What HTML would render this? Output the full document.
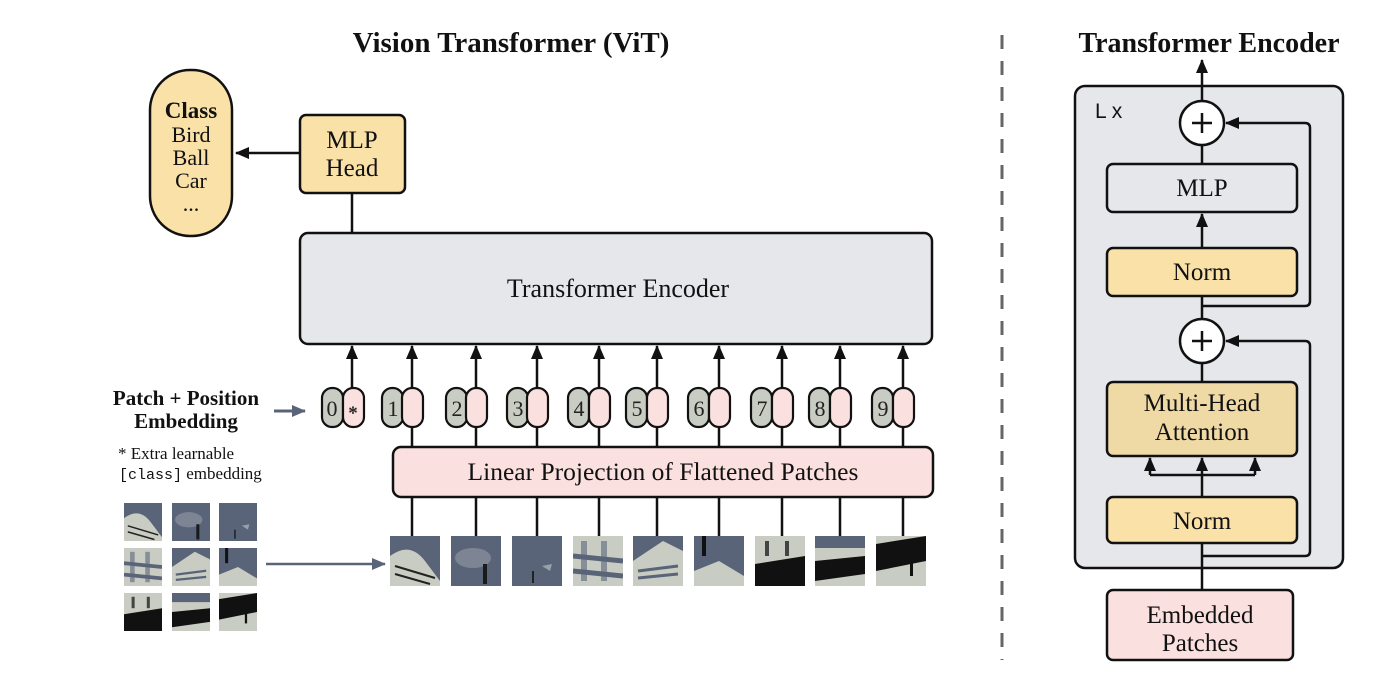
<!DOCTYPE html>
<html><head><meta charset="utf-8"><style>
html,body{margin:0;padding:0;background:#fff;}
svg{display:block;font-family:"Liberation Serif",serif;}
</style></head><body>
<svg width="1400" height="690" viewBox="0 0 1400 690" xmlns="http://www.w3.org/2000/svg">
<defs>
<marker id="ahg" markerWidth="14" markerHeight="12" refX="13" refY="6" orient="auto" markerUnits="userSpaceOnUse" viewBox="0 0 14 12">
<path d="M0,0 L14,6 L0,12 z" fill="#5a6478"/></marker>
<marker id="ahb" markerWidth="14" markerHeight="12" refX="13" refY="6" orient="auto" markerUnits="userSpaceOnUse" viewBox="0 0 14 12">
<path d="M0,0 L14,6 L0,12 z" fill="#111"/></marker>
<symbol id="p1" viewBox="0 0 50 50"><rect width="50" height="50" fill="#5a6479"/><path d="M0,20 Q20,5 35,25 L50,45 L50,50 L0,50z" fill="#c9ccc2"/><path d="M5,30 L45,42 M5,38 L40,48" stroke="#222" stroke-width="2"/></symbol>
<symbol id="p2" viewBox="0 0 50 50"><rect width="50" height="50" fill="#5a6479"/><ellipse cx="22" cy="22" rx="18" ry="10" fill="#7d8595"/><rect x="32" y="28" width="4" height="20" fill="#1a1a1a"/></symbol>
<symbol id="p3" viewBox="0 0 50 50"><rect width="50" height="50" fill="#5a6479"/><path d="M30,30 L40,28 L38,35z" fill="#9aa0aa"/><rect x="20" y="35" width="2" height="12" fill="#222"/></symbol>
<symbol id="p4" viewBox="0 0 50 50"><rect width="50" height="50" fill="#c9ccc2"/><path d="M0,20 L50,25 M0,35 L50,40" stroke="#5a6479" stroke-width="5"/><rect x="8" y="5" width="6" height="40" fill="#5a6479" opacity=".6"/><rect x="28" y="5" width="6" height="40" fill="#5a6479" opacity=".6"/></symbol>
<symbol id="p5" viewBox="0 0 50 50"><rect width="50" height="50" fill="#5a6479"/><path d="M0,25 L30,5 L50,15 L50,50 L0,50z" fill="#c9ccc2"/><path d="M5,35 L45,30 M5,42 L45,38" stroke="#5a6479" stroke-width="3"/></symbol>
<symbol id="p6" viewBox="0 0 50 50"><rect width="50" height="50" fill="#5a6479"/><path d="M0,35 L25,25 L50,40 L50,50 L0,50z" fill="#c9ccc2"/><rect x="8" y="0" width="4" height="20" fill="#111"/></symbol>
<symbol id="p7" viewBox="0 0 50 50"><rect width="50" height="50" fill="#c9ccc2"/><path d="M0,28 L50,20 L50,50 L0,50z" fill="#111"/><rect x="10" y="5" width="4" height="15" fill="#444"/><rect x="30" y="5" width="4" height="15" fill="#444"/></symbol>
<symbol id="p8" viewBox="0 0 50 50"><rect width="50" height="50" fill="#c9ccc2"/><rect y="0" width="50" height="12" fill="#5a6479"/><path d="M0,25 L50,20 L50,38 L0,45z" fill="#111"/></symbol>
<symbol id="p9" viewBox="0 0 50 50"><rect width="50" height="50" fill="#c9ccc2"/><path d="M0,8 L50,0 L50,25 L0,35z" fill="#111"/><rect x="34" y="25" width="3" height="15" fill="#111"/></symbol>
</defs>

<text x="511" y="52" font-size="29" font-weight="bold" text-anchor="middle" fill="#111">Vision Transformer (ViT)</text>
<text x="1209" y="52" font-size="28" font-weight="bold" text-anchor="middle" fill="#111">Transformer Encoder</text>

<rect x="150" y="70" width="82" height="166" rx="40" fill="#f9e1a8" stroke="#111" stroke-width="2.5"/>
<text x="191" y="118" font-size="23" font-weight="bold" text-anchor="middle" fill="#111">Class</text>
<g font-size="22" text-anchor="middle" fill="#111">
<text x="191" y="142">Bird</text><text x="191" y="165">Ball</text><text x="191" y="188">Car</text><text x="191" y="211">...</text></g>

<rect x="300" y="115" width="105" height="78" rx="6" fill="#f9e1a8" stroke="#111" stroke-width="2.5"/>
<text x="352" y="148" font-size="25" text-anchor="middle" fill="#111">MLP</text>
<text x="352" y="176" font-size="25" text-anchor="middle" fill="#111">Head</text>
<line x1="300" y1="153" x2="236" y2="153" stroke="#111" stroke-width="2.5" marker-end="url(#ahb)"/>
<line x1="352" y1="193" x2="352" y2="233" stroke="#111" stroke-width="2.5"/>

<rect x="300" y="233" width="632" height="111" rx="8" fill="#e6e7ea" stroke="#111" stroke-width="2.5"/>
<text x="618" y="297" font-size="26" text-anchor="middle" fill="#111">Transformer Encoder</text>

<g stroke="#111" stroke-width="2.5">
<line x1="352" y1="388" x2="352" y2="346" marker-end="url(#ahb)"/>
<line x1="412" y1="388" x2="412" y2="346" marker-end="url(#ahb)"/>
<line x1="476" y1="388" x2="476" y2="346" marker-end="url(#ahb)"/>
<line x1="537" y1="388" x2="537" y2="346" marker-end="url(#ahb)"/>
<line x1="599" y1="388" x2="599" y2="346" marker-end="url(#ahb)"/>
<line x1="657" y1="388" x2="657" y2="346" marker-end="url(#ahb)"/>
<line x1="719" y1="388" x2="719" y2="346" marker-end="url(#ahb)"/>
<line x1="782" y1="388" x2="782" y2="346" marker-end="url(#ahb)"/>
<line x1="840" y1="388" x2="840" y2="346" marker-end="url(#ahb)"/>
<line x1="903" y1="388" x2="903" y2="346" marker-end="url(#ahb)"/>
</g>
<g stroke="#111" stroke-width="2.2">
<rect x="322" y="388" width="21" height="39" rx="10" fill="#c9ccc2"/><rect x="343" y="388" width="21" height="39" rx="10" fill="#fbe0e0"/>
<rect x="382" y="388" width="21" height="39" rx="10" fill="#c9ccc2"/><rect x="402" y="388" width="21" height="39" rx="10" fill="#fbe0e0"/>
<rect x="446" y="388" width="21" height="39" rx="10" fill="#c9ccc2"/><rect x="466" y="388" width="21" height="39" rx="10" fill="#fbe0e0"/>
<rect x="507" y="388" width="21" height="39" rx="10" fill="#c9ccc2"/><rect x="527" y="388" width="21" height="39" rx="10" fill="#fbe0e0"/>
<rect x="568" y="388" width="21" height="39" rx="10" fill="#c9ccc2"/><rect x="589" y="388" width="21" height="39" rx="10" fill="#fbe0e0"/>
<rect x="626" y="388" width="21" height="39" rx="10" fill="#c9ccc2"/><rect x="647" y="388" width="21" height="39" rx="10" fill="#fbe0e0"/>
<rect x="688" y="388" width="21" height="39" rx="10" fill="#c9ccc2"/><rect x="709" y="388" width="21" height="39" rx="10" fill="#fbe0e0"/>
<rect x="751" y="388" width="21" height="39" rx="10" fill="#c9ccc2"/><rect x="772" y="388" width="21" height="39" rx="10" fill="#fbe0e0"/>
<rect x="809" y="388" width="21" height="39" rx="10" fill="#c9ccc2"/><rect x="830" y="388" width="21" height="39" rx="10" fill="#fbe0e0"/>
<rect x="872" y="388" width="21" height="39" rx="10" fill="#c9ccc2"/><rect x="893" y="388" width="21" height="39" rx="10" fill="#fbe0e0"/>
</g>
<g font-size="22" text-anchor="middle" fill="#222">
<text x="332" y="416">0</text><text x="353" y="419" font-size="19" font-weight="bold">*</text>
<text x="393" y="416">1</text><text x="457" y="416">2</text><text x="518" y="416">3</text><text x="579" y="416">4</text>
<text x="637" y="416">5</text><text x="699" y="416">6</text><text x="762" y="416">7</text><text x="820" y="416">8</text><text x="883" y="416">9</text>
</g>

<g stroke="#111" stroke-width="2.5">
<line x1="412" y1="427" x2="412" y2="536"/><line x1="476" y1="427" x2="476" y2="536"/><line x1="537" y1="427" x2="537" y2="536"/>
<line x1="599" y1="427" x2="599" y2="536"/><line x1="657" y1="427" x2="657" y2="536"/><line x1="719" y1="427" x2="719" y2="536"/>
<line x1="782" y1="427" x2="782" y2="536"/><line x1="840" y1="427" x2="840" y2="536"/><line x1="903" y1="427" x2="903" y2="536"/>
</g>
<rect x="393" y="447" width="540" height="50" rx="8" fill="#fbe0e0" stroke="#111" stroke-width="2.5"/>
<text x="663" y="480" font-size="25.5" text-anchor="middle" fill="#111">Linear Projection of Flattened Patches</text>

<use href="#p1" x="390" y="536" width="50" height="50"/>
<use href="#p2" x="451" y="536" width="50" height="50"/>
<use href="#p3" x="512" y="536" width="50" height="50"/>
<use href="#p4" x="573" y="536" width="50" height="50"/>
<use href="#p5" x="633" y="536" width="50" height="50"/>
<use href="#p6" x="694" y="536" width="50" height="50"/>
<use href="#p7" x="755" y="536" width="50" height="50"/>
<use href="#p8" x="815" y="536" width="50" height="50"/>
<use href="#p9" x="876" y="536" width="50" height="50"/>

<use href="#p1" x="124" y="503" width="38" height="38"/><use href="#p2" x="172" y="503" width="38" height="38"/><use href="#p3" x="219" y="503" width="38" height="38"/>
<use href="#p4" x="124" y="548" width="38" height="38"/><use href="#p5" x="172" y="548" width="38" height="38"/><use href="#p6" x="219" y="548" width="38" height="38"/>
<use href="#p7" x="124" y="593" width="38" height="38"/><use href="#p8" x="172" y="593" width="38" height="38"/><use href="#p9" x="219" y="593" width="38" height="38"/>
<line x1="266" y1="564" x2="385" y2="564" stroke="#5a6478" stroke-width="2.5" marker-end="url(#ahg)"/>

<text x="186" y="405" font-size="21" font-weight="bold" text-anchor="middle" fill="#111">Patch + Position</text>
<text x="186" y="428" font-size="21" font-weight="bold" text-anchor="middle" fill="#111">Embedding</text>
<line x1="274" y1="411" x2="305" y2="411" stroke="#5a6478" stroke-width="3" marker-end="url(#ahg)"/>
<text x="118" y="459" font-size="17" fill="#111">* Extra learnable</text>
<text x="119" y="479" font-size="15" fill="#111"><tspan font-family="Liberation Mono,monospace">[class]</tspan><tspan font-size="17"> embedding</tspan></text>

<line x1="1002" y1="35" x2="1002" y2="660" stroke="#666" stroke-width="3" stroke-dasharray="14,12"/>

<line x1="1202" y1="101" x2="1202" y2="60" stroke="#111" stroke-width="2.5" marker-end="url(#ahb)"/>
<rect x="1075" y="86" width="268" height="482" rx="10" fill="#e6e7ea" stroke="#111" stroke-width="2.5"/>
<text x="1095" y="118" font-size="21" fill="#111" font-family="Liberation Sans,sans-serif">L x</text>
<g stroke="#111" stroke-width="2.5" fill="none">
<line x1="1202" y1="86" x2="1202" y2="101"/>
<line x1="1202" y1="145" x2="1202" y2="164"/>
<line x1="1202" y1="248" x2="1202" y2="214" marker-end="url(#ahb)"/>
<line x1="1202" y1="296" x2="1202" y2="319"/>
<path d="M1202,306 L1305,306 Q1310,306 1310,301 L1310,128 Q1310,123 1305,123 L1226,123" marker-end="url(#ahb)"/>
<line x1="1202" y1="363" x2="1202" y2="382"/>
<line x1="1202" y1="497" x2="1202" y2="458" marker-end="url(#ahb)"/>
<path d="M1150,475 L1255,475"/>
<line x1="1150" y1="475" x2="1150" y2="458" marker-end="url(#ahb)"/>
<line x1="1255" y1="475" x2="1255" y2="458" marker-end="url(#ahb)"/>
<line x1="1202" y1="543" x2="1202" y2="590"/>
<path d="M1202,556 L1305,556 Q1310,556 1310,551 L1310,346 Q1310,341 1305,341 L1226,341" marker-end="url(#ahb)"/>
</g>
<circle cx="1202" cy="123" r="22" fill="#fff" stroke="#111" stroke-width="2.5"/>
<path d="M1192,123 H1212 M1202,113 V133" stroke="#111" stroke-width="2.5"/>
<circle cx="1202" cy="341" r="22" fill="#fff" stroke="#111" stroke-width="2.5"/>
<path d="M1192,341 H1212 M1202,331 V351" stroke="#111" stroke-width="2.5"/>
<rect x="1107" y="164" width="190" height="48" rx="6" fill="#e6e7ea" stroke="#111" stroke-width="2.5"/>
<text x="1202" y="196" font-size="25" text-anchor="middle" fill="#111">MLP</text>
<rect x="1107" y="248" width="190" height="48" rx="6" fill="#f9e1a8" stroke="#111" stroke-width="2.5"/>
<text x="1202" y="280" font-size="25" text-anchor="middle" fill="#111">Norm</text>
<rect x="1107" y="382" width="190" height="74" rx="6" fill="#efd9a4" stroke="#111" stroke-width="2.5"/>
<text x="1202" y="411" font-size="25" text-anchor="middle" fill="#111">Multi-Head</text>
<text x="1202" y="440" font-size="25" text-anchor="middle" fill="#111">Attention</text>
<rect x="1107" y="497" width="190" height="46" rx="6" fill="#f9e1a8" stroke="#111" stroke-width="2.5"/>
<text x="1202" y="529" font-size="25" text-anchor="middle" fill="#111">Norm</text>
<rect x="1107" y="590" width="186" height="70" rx="6" fill="#fbe0e0" stroke="#111" stroke-width="2.5"/>
<text x="1200" y="623" font-size="25" text-anchor="middle" fill="#111">Embedded</text>
<text x="1200" y="651" font-size="25" text-anchor="middle" fill="#111">Patches</text>
</svg>
</body></html>
